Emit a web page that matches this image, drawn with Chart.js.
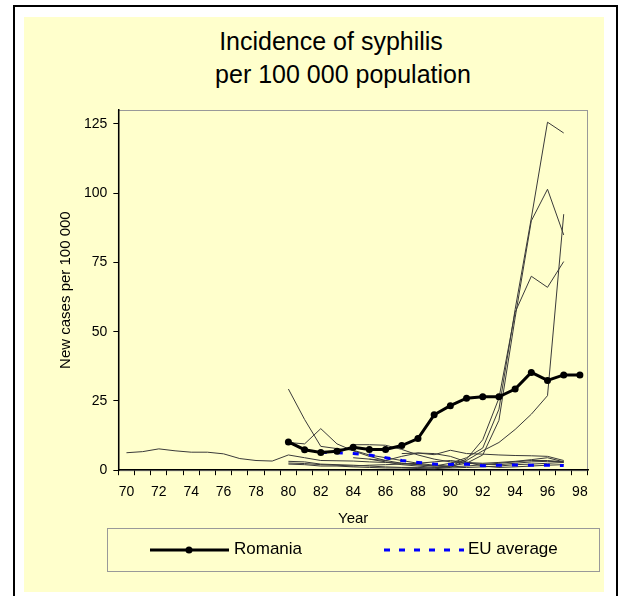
<!DOCTYPE html>
<html>
<head>
<meta charset="utf-8">
<title>Incidence of syphilis</title>
<script src="https://cdn.jsdelivr.net/npm/chart.js@4.4.1/dist/chart.umd.min.js"></script>
<style>
  body { margin: 0; background: #fff; font-family: "Liberation Sans", Arial, sans-serif; }
  #frame { position: absolute; left: 13px; top: 5px; width: 601px; height: 600px;
           border-left: 2px solid #000; border-top: 2px solid #000; border-right: 2px solid #000; }
  #panel { position: absolute; left: 24px; top: 17px; width: 580px; height: 575px; background: #ffffcc; }
  .title { position: absolute; font-size: 25px; line-height: 33px; white-space: nowrap; color: #000;
           width: 400px; text-align: center; }
  #chart { position: absolute; left: 0; top: 0; }
  #legend { position: absolute; left: 107px; top: 528px; width: 491px; height: 42px;
            border: 1px solid #999; font-size: 17px; }
  #legend svg, #legend span { position: absolute; }
</style>
</head>
<body>
<div id="frame"></div>
<div id="panel"></div>
<div class="title" style="left:131px;top:25px">Incidence of syphilis</div>
<div class="title" style="left:143px;top:58px">per 100 000 population</div>
<canvas id="chart" width="618" height="596"></canvas>
<div id="legend">
  <svg style="left:42px;top:16px" width="80" height="10">
    <line x1="0" y1="5" x2="79" y2="5" stroke="#000" stroke-width="3"/>
    <circle cx="39" cy="5" r="3.5" fill="#000"/>
  </svg>
  <span style="left:126px;top:10px">Romania</span>
  <svg style="left:276px;top:16px" width="82" height="10">
    <line x1="0" y1="5" x2="80" y2="5" stroke="#0000ff" stroke-width="3" stroke-dasharray="6 9"/>
  </svg>
  <span style="left:360px;top:10px">EU average</span>
</div>
<script>
const years = ['70','71','72','73','74','75','76','77','78','79','80','81','82','83','84',
               '85','86','87','88','89','90','91','92','93','94','95','96','97','98'];
const shownYears = ['70','72','74','76','78','80','82','84','86','88','90','92','94','96','98'];
const yTicks = [0, 25, 50, 75, 100, 125];

const romania = [null,null,null,null,null,null,null,null,null,null,
  10.2,7.4,6.4,6.8,8.3,7.5,7.5,8.9,11.4,20.0,
  23.3,26.0,26.5,26.5,29.3,35.3,32.4,34.4,34.4];
const euAverage = [null,null,null,null,null,null,null,null,null,null,
  null,null,6.5,6.3,6.0,5.5,4.5,3.5,2.8,2.2,
  2.1,2.2,1.6,1.8,1.9,1.8,1.8,1.7,null];

// other EU countries (thin lines)
const country1 = [6.3,6.7,7.7,7.0,6.5,6.5,5.9,4.2,3.5,3.3,
  5.5,4.5,3.5,3.4,3.3,3.0,2.8,2.5,2.0,1.5,
  1.2,1.5,2.0,2.5,3.0,3.5,3.5,3.0,null];
const country2 = [null,null,null,null,null,null,null,null,null,null,
  29.3,18.3,8.6,7.8,7.2,5.5,4.5,3.5,2.5,1.8,
  1.5,2.5,5.5,18,55,90,101.4,84.9,null];
const country3 = [null,null,null,null,null,null,null,null,null,null,
  10,9.5,15,9.5,7,5,3.5,2.5,2,1.5,
  2.5,4.5,8,22,58,91,125.6,121.7,null];
const country4 = [null,null,null,null,null,null,null,null,null,null,
  3.2,3.0,2.2,2.0,1.8,1.5,1.2,1.0,1.0,0.8,
  1.5,4,11,26,57,70,66,75.3,null];
const country5 = [null,null,null,null,null,null,null,null,null,null,
  2.2,2.0,1.5,1.5,1.2,1.0,0.8,0.8,0.6,0.5,
  1.0,3.5,7,10,14.7,20.2,26.9,92.4,null];
const country6 = [null,null,null,null,null,null,null,null,null,null,
  null,null,null,null,9.2,9.2,9.0,7.5,5.5,4.0,
  3.0,2.5,2.2,2.0,2.5,3.0,3.2,3.0,null];
const country7 = [null,null,null,null,null,null,null,null,null,null,
  null,null,null,null,null,4.0,3.5,5.0,6.2,5.6,
  7.2,6.0,5.8,5.5,5.3,5.2,5.0,3.5,null];
const country8 = [null,null,null,null,null,null,null,null,null,null,
  2.6,2.4,2.0,1.8,1.5,1.8,2.0,2.2,2.5,3.0,
  3.5,2.8,2.5,2.8,3.2,3.8,4.5,3.0,null];
const country9 = [null,null,null,null,null,null,null,null,null,null,
  null,null,null,null,4.5,4.0,3.0,2.0,1.5,1.0,
  0.8,1.0,1.2,1.5,2.0,2.2,2.5,2.8,null];
const country10 = [null,null,null,null,null,null,null,null,null,null,
  null,null,null,null,null,null,null,6.0,6.2,6.0,
  5.0,3.0,1.5,1.0,1.2,1.5,1.8,2.0,null];
const otherCountries = [country1, country2, country3, country4, country5,
  country6, country7, country8, country9, country10];

Chart.defaults.font.family = '"Liberation Sans", Arial, sans-serif';
Chart.defaults.color = '#000';

// grey frame round the plot area, axes are drawn over it
const areaBorder = {
  id: 'areaBorder',
  beforeDraw(chart) {
    const {ctx, chartArea: {left, top, right, bottom}} = chart;
    ctx.save();
    ctx.strokeStyle = '#999';
    ctx.lineWidth = 1;
    ctx.strokeRect(left, top + 0.5, right - left - 0.5, bottom - top);
    ctx.restore();
  }
};

const datasets = [
  {
    label: 'Romania',
    data: romania,
    borderColor: '#000',
    borderWidth: 3,
    pointRadius: 3.5,
    pointBackgroundColor: '#000',
    pointBorderWidth: 0
  },
  {
    label: 'EU average',
    data: euAverage,
    borderColor: '#0000ff',
    borderWidth: 3,
    borderDash: [6, 10],
    pointRadius: 0
  }
];
otherCountries.forEach((values, i) => {
  datasets.push({
    label: 'Country ' + (i + 1),
    data: values,
    borderColor: '#3a3a3a',
    borderWidth: 1,
    pointRadius: 0
  });
});

new Chart(document.getElementById('chart'), {
  type: 'line',
  data: { labels: years, datasets: datasets },
  options: {
    responsive: false,
    animation: false,
    layout: { padding: { top: 110, right: 30, bottom: 68, left: 57 } },
    plugins: {
      legend: { display: false },
      title: { display: false },
      tooltip: { enabled: false }
    },
    scales: {
      x: {
        offset: true,
        grid: { offset: true, drawOnChartArea: false, tickLength: 5, color: '#000' },
        border: { color: '#000', width: 1.5 },
        ticks: {
          autoSkip: false,
          maxRotation: 0,
          padding: 9,
          font: { size: 14 },
          callback: function(value, index) {
            return shownYears.includes(years[index]) ? years[index] : '';
          }
        },
        title: { display: true, text: 'Year', font: { size: 15 }, padding: { top: 0, bottom: 0 } }
      },
      y: {
        min: 0,
        max: 130,
        afterBuildTicks: scale => { scale.ticks = yTicks.map(v => ({ value: v })); },
        grid: { drawOnChartArea: false, tickLength: 5, color: '#000' },
        border: { color: '#000', width: 1.5 },
        ticks: { padding: 6, font: { size: 14 } },
        title: { display: true, text: 'New cases per 100 000', font: { size: 15 }, padding: { top: 0, bottom: 3 } }
      }
    }
  },
  plugins: [areaBorder]
});
</script>
</body>
</html>
